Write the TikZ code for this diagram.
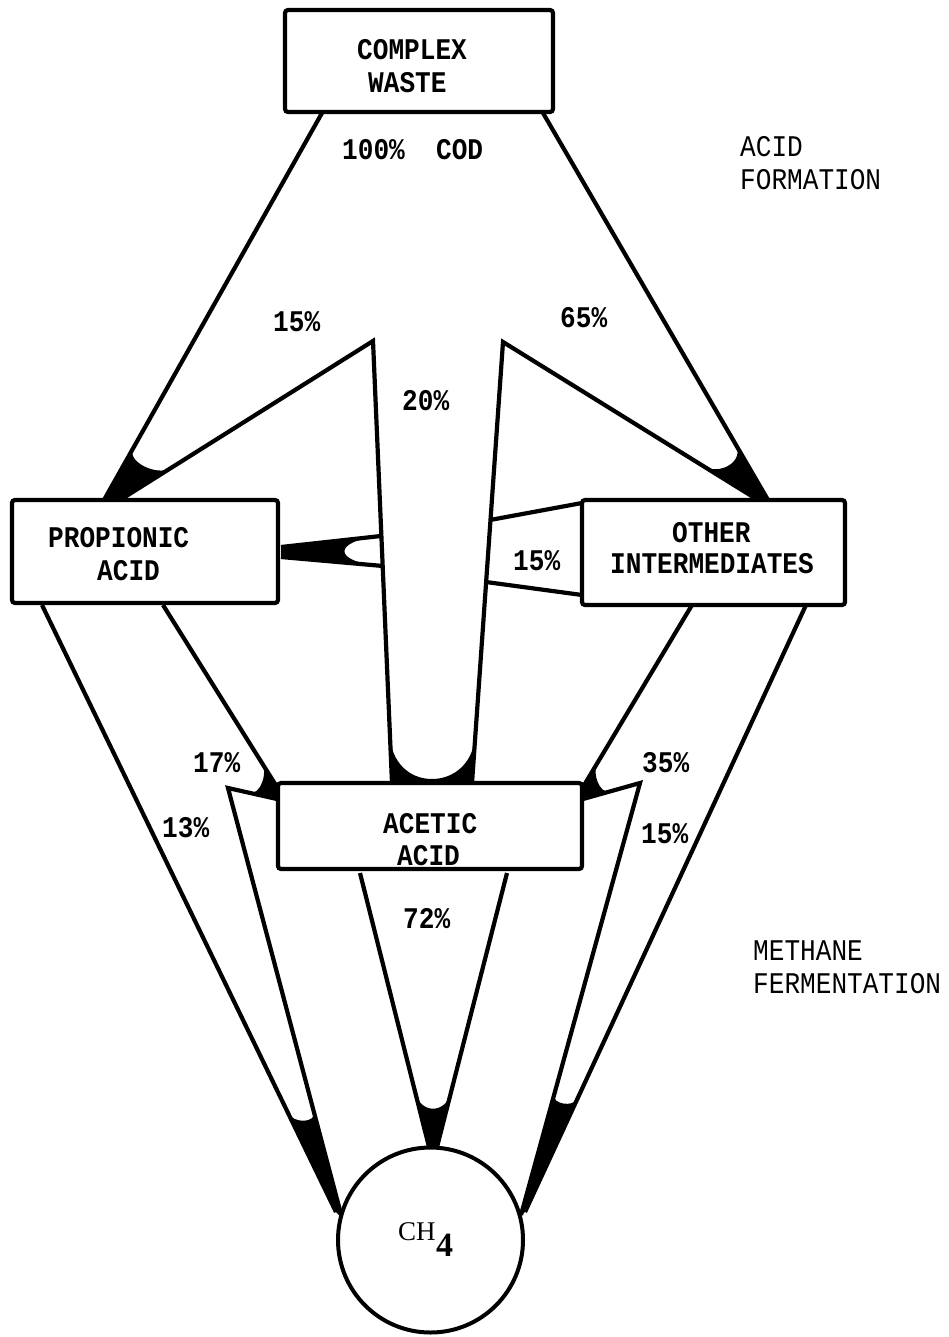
\documentclass[tikz,border=0pt]{standalone}
\usepackage{fontspec}
\setmonofont{Liberation Mono}[FakeStretch=0.87]
\newfontfamily\chfont{Liberation Serif}
\usetikzlibrary{calc}
\newcommand{\lblfont}{\fontsize{30}{34}\selectfont\ttfamily\bfseries}
\newcommand{\secfont}{\fontsize{30}{34}\selectfont\ttfamily}
\newcommand{\flowtip}[6]{%
  \fill ($(#2)!#5!(#1)$) -- (#2) -- (#4) -- ($(#4)!#5!(#3)$)
    .. controls ($(#4)!#6!(#3)$) and ($(#2)!#6!(#1)$) .. ($(#2)!#5!(#1)$) -- cycle;
}
\tikzset{
  band/.style={line width=4.2pt, line join=miter},
  boxnode/.style={draw, line width=4.2pt, rounded corners=3pt, fill=white, inner sep=0pt},
  lbl/.style={anchor=base west, inner sep=0pt, font=\lblfont},
  seclbl/.style={anchor=base west, inner sep=0pt, font=\secfont},
}
\begin{document}
\begin{tikzpicture}[x=1pt,y=-1pt]
\useasboundingbox (0,0) rectangle (948,1337);
% ---- coordinates of the flow bands
\coordinate (cwL) at (322,113);
\coordinate (cwR) at (543,113);
\coordinate (apexL) at (373,341);
\coordinate (apexR) at (503,342);
\coordinate (pA1) at (104,500);
\coordinate (pA2) at (120,500);
\coordinate (oB1) at (758,500);
\coordinate (oB2) at (768,500);
\coordinate (aM1) at (392,783);
\coordinate (aM2) at (472,783);
\coordinate (cS1) at (381,536);
\coordinate (cS2) at (383,566);
\coordinate (pC1) at (281,547);
\coordinate (pC2) at (281,557);
\coordinate (dS1) at (490,520);
\coordinate (dS2) at (486,582);
\coordinate (oD1) at (582,503);
\coordinate (oD2) at (582,595);
\coordinate (pO1) at (42,605);
\coordinate (pO2) at (163,605);
\coordinate (cornL) at (228,788);
\coordinate (aE1) at (277,787);
\coordinate (aE2) at (277,799);
\coordinate (chG1) at (336,1212);
\coordinate (chG2) at (342,1218);
\coordinate (oO1) at (692,605);
\coordinate (oO2) at (806,605);
\coordinate (cornR) at (640,783);
\coordinate (aI1) at (583,787);
\coordinate (aI2) at (583,799);
\coordinate (chH1) at (521,1215);
\coordinate (chH2) at (525,1212);
\coordinate (aO1) at (360,873);
\coordinate (aO2) at (507,873);
\coordinate (chF1) at (429,1147);
\coordinate (chF2) at (437,1147);
\coordinate (mA) at (390,735);
\coordinate (mB) at (475,735);
\coordinate (mM) at (432,779);
% ---- arrow tips
\flowtip{cwL}{pA1}{apexL}{pA2}{60pt}{44pt}
\flowtip{apexR}{oB1}{cwR}{oB2}{65pt}{45pt}
\flowtip{cS1}{pC1}{cS2}{pC2}{99pt}{52pt}
\flowtip{pO2}{aE1}{cornL}{aE2}{28pt}{17pt}
\flowtip{oO1}{aI1}{cornR}{aI2}{28pt}{17pt}
\flowtip{aO1}{chF1}{aO2}{chF2}{56pt}{34pt}
\flowtip{pO1}{chG1}{cornL}{chG2}{110pt}{98pt}
\flowtip{cornR}{chH1}{oO2}{chH2}{125pt}{115pt}
\fill (mA) -- (aM1) -- (aM2) -- (mB) .. controls (474,762) and (455,779) .. (mM)
      .. controls (409,779) and (391,762) .. (mA) -- cycle;
% ---- band edges
\draw[band] (pA1) -- (cwL);
\draw[band] (pA2) -- (apexL) -- (aM1);
\draw[band] (aM2) -- (apexR) -- (oB1);
\draw[band] (cwR) -- (oB2);
\draw[band] (cS1) -- (pC1);
\draw[band] (cS2) -- (pC2);
\draw[band] (dS1) -- (oD1);
\draw[band] (dS2) -- (oD2);
\draw[band] (pO1) -- (chG1);
\draw[band] (chG2) -- (cornL) -- (aE2);
\draw[band] (pO2) -- (aE1);
\draw[band] (oO2) -- (chH2);
\draw[band] (chH1) -- (cornR) -- (aI2);
\draw[band] (oO1) -- (aI1);
\draw[band] (aO1) -- (chF1);
\draw[band] (aO2) -- (chF2);
% ---- boxes
\node[boxnode, minimum width=268pt, minimum height=102pt] (cw) at (419,61) {};
\node[boxnode, minimum width=266pt, minimum height=103pt] (prop) at (145,551.5) {};
\node[boxnode, minimum width=263pt, minimum height=105pt] (oth) at (713.5,552.5) {};
\node[boxnode, minimum width=304pt, minimum height=86pt] (acet) at (430,826) {};
\node[circle, draw, line width=4pt, fill=white, inner sep=0pt, minimum size=185pt] (ch4) at (430.5,1240) {};
% ---- texts
\node[lbl] (cwT1) at (357,60) {COMPLEX};
\node[lbl] (cwT2) at (368,93) {WASTE};
\node[lbl] (cod) at (342,160) {100\%~~COD};
\node[lbl] (propT1) at (48,547) {PROPIONIC};
\node[lbl] (propT2) at (97,580) {ACID};
\node[lbl] (othT1) at (672,542) {OTHER};
\node[lbl] (othT2) at (610,573) {INTERMEDIATES};
\node[lbl] (acT1) at (383,833) {ACETIC};
\node[lbl] (acT2) at (397,865) {ACID};
\node[lbl] (p15a) at (273,331) {15\%};
\node[lbl] (p65) at (560,327) {65\%};
\node[lbl] (p20) at (402,410) {20\%};
\node[lbl] (p15b) at (513,570) {15\%};
\node[lbl] (p17) at (193,772) {17\%};
\node[lbl] (p13) at (162,837) {13\%};
\node[lbl] (p35) at (642,772) {35\%};
\node[lbl] (p15c) at (641,843) {15\%};
\node[lbl] (p72) at (403,928) {72\%};
\node[seclbl] (secA1) at (740,157) {ACID};
\node[seclbl] (secA2) at (740,190) {FORMATION};
\node[seclbl] (secM1) at (753,960) {METHANE};
\node[seclbl] (secM2) at (753,993) {FERMENTATION};
\node[anchor=base west, inner sep=0pt, font=\fontsize{27}{30}\selectfont\chfont] (chT) at (398,1240) {CH};
\node[anchor=base west, inner sep=0pt, font=\fontsize{34}{36}\selectfont\chfont\bfseries] (chSub) at (436,1256) {4};
\end{tikzpicture}
\end{document}
